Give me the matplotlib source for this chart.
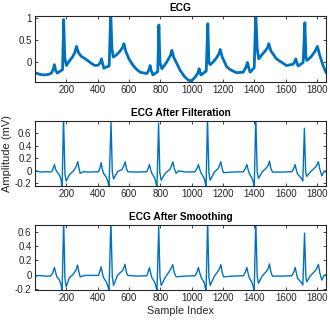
import matplotlib
matplotlib.use("Agg")
import matplotlib.pyplot as plt

# ---- data (sample index, amplitude in mV) ----
raw_x = [1, 25, 53, 85, 106, 118, 125, 132, 143, 160, 177, 184, 191, 202, 212, 223, 240, 255, 266,
         278, 295, 330, 360, 383, 405, 418, 425, 432, 440, 458, 474, 484, 492, 500, 521, 545, 560, 568,
         580, 600, 625, 650, 672, 714, 726, 735, 742, 753, 770, 784, 791, 798, 810, 830, 850, 865, 874,
         885, 905, 927, 955, 980, 1000, 1022, 1038, 1048, 1053, 1059, 1075, 1093, 1103, 1110, 1118, 1140,
         1160, 1175, 1182, 1195, 1224, 1250, 1286, 1328, 1345, 1356, 1364, 1373, 1390, 1399, 1409, 1418,
         1428, 1445, 1470, 1485, 1492, 1505, 1541, 1575, 1604, 1647, 1658, 1664, 1670, 1679, 1700, 1711,
         1722, 1729, 1736, 1760, 1785, 1802, 1815, 1838, 1856]
raw_y = [-0.23, -0.26, -0.28, -0.27, -0.24, -0.15, -0.05, -0.17, -0.24, -0.2, -0.16, 0.96, 0.1, -0.07,
         -0.01, 0.045, 0.12, 0.22, 0.36, 0.22, 0.14, 0.06, -0.02, -0.07, -0.06, 0.0, 0.08, -0.02, -0.13,
         -0.1, -0.08, 1.12, 0.3, 0.12, 0.17, 0.26, 0.34, 0.42, 0.25, 0.08, -0.06, -0.16, -0.22, -0.25,
         -0.18, -0.07, -0.18, -0.28, -0.24, -0.2, 0.84, 0.0, -0.14, -0.05, 0.06, 0.16, 0.27, 0.12, -0.02,
         -0.18, -0.32, -0.40, -0.41, -0.33, -0.25, -0.14, -0.22, -0.28, -0.24, -0.19, 0.87, 0.0, -0.05,
         0.02, 0.11, 0.2, 0.29, 0.12, -0.1, -0.17, -0.23, -0.22, -0.12, 0.0, -0.12, -0.22, -0.15, -0.12,
         1.12, 0.3, 0.08, 0.16, 0.26, 0.34, 0.42, 0.26, 0.08, 0.0, -0.07, -0.04, 0.02, 0.08, 0.0, -0.08,
         -0.03, 0.0, 0.89, 0.1, 0.045, 0.12, 0.24, 0.36, 0.18, -0.07, -0.22]

filt_x = [1, 8, 20, 40, 70, 100, 112, 125, 133, 141, 157, 168, 174, 183, 192, 200, 221, 247, 262, 274,
          281, 289, 310, 350, 406, 415, 423, 430, 438, 455, 466, 473, 486, 494, 502, 527, 555, 568, 576,
          585, 593, 650, 714, 723, 731, 738, 746, 765, 773, 779, 789, 797, 806, 831, 860, 872, 880, 890,
          901, 916, 960, 1022, 1035, 1043, 1052, 1061, 1080, 1086, 1092, 1101, 1110, 1118, 1145, 1170,
          1180, 1186, 1195, 1203, 1260, 1330, 1343, 1352, 1360, 1367, 1385, 1393, 1399, 1409, 1418, 1426,
          1451, 1482, 1490, 1496, 1505, 1515, 1580, 1639, 1652, 1660, 1667, 1675, 1700, 1709, 1719, 1727,
          1734, 1756, 1790, 1800, 1808, 1818, 1830, 1845, 1851, 1856]
filt_y = [-0.05, 0.0, -0.01, -0.02, -0.015, -0.02, 0.0, 0.10, 0.02, -0.015, -0.07, -0.15, -0.26, 0.85,
          -0.05, -0.165, -0.06, 0.0, 0.06, 0.145, 0.05, -0.04, -0.015, -0.02, -0.015, 0.04, 0.13, 0.03,
          -0.04, -0.1, -0.17, -0.26, 0.775, -0.02, -0.13, -0.015, 0.02, 0.08, 0.145, 0.03, -0.015, -0.02,
          -0.015, 0.04, 0.10, 0.02, -0.04, -0.12, -0.2, -0.26, 0.76, -0.03, -0.15, -0.04, 0.02, 0.08, 0.145,
          0.03, -0.04, 0.0, -0.02, -0.015, 0.04, 0.10, 0.02, -0.04, -0.12, -0.18, -0.26, 0.82, -0.03, -0.15,
          -0.02, 0.04, 0.1, 0.145, 0.03, -0.03, -0.02, -0.015, 0.04, 0.10, 0.02, -0.04, -0.12, -0.18, -0.26,
          0.85, -0.02, -0.12, -0.015, 0.06, 0.1, 0.155, 0.04, -0.02, -0.02, -0.015, 0.04, 0.10, 0.02, -0.05,
          -0.12, -0.165, 0.68, -0.02, -0.09, -0.02, 0.06, 0.1, 0.145, 0.02, -0.08, -0.01, 0.0, -0.02]

smooth_x = [1, 20, 40, 70, 100, 113, 125, 134, 141, 157, 167, 174, 184, 192, 200, 221, 242, 262, 272,
            281, 289, 320, 406, 415, 423, 431, 438, 455, 466, 473, 485, 494, 502, 527, 560, 568, 575, 584,
            593, 650, 714, 723, 731, 739, 746, 765, 773, 779, 790, 798, 806, 831, 862, 872, 879, 889, 901,
            960, 1022, 1035, 1043, 1052, 1061, 1080, 1086, 1092, 1102, 1110, 1118, 1145, 1172, 1180, 1186,
            1195, 1203, 1260, 1330, 1343, 1352, 1360, 1367, 1385, 1393, 1399, 1409, 1418, 1426, 1451, 1482,
            1490, 1496, 1505, 1515, 1580, 1639, 1652, 1660, 1668, 1675, 1700, 1709, 1720, 1728, 1734, 1756,
            1790, 1800, 1808, 1818, 1830, 1845, 1856]
smooth_y = [-0.03, -0.01, -0.015, -0.02, -0.02, 0.02, 0.10, 0.02, -0.03, -0.075, -0.14, -0.22, 0.75,
            -0.05, -0.17, -0.04, 0.0, 0.06, 0.135, 0.04, -0.03, -0.01, -0.01, 0.05, 0.11, 0.02, -0.04,
            -0.1, -0.16, -0.22, 0.75, -0.03, -0.15, -0.01, 0.06, 0.1, 0.145, 0.03, -0.01, -0.02, -0.015,
            0.04, 0.10, 0.02, -0.04, -0.11, -0.17, -0.22, 0.67, -0.03, -0.15, -0.04, 0.06, 0.1, 0.14, 0.03,
            -0.03, -0.02, -0.015, 0.04, 0.10, 0.02, -0.04, -0.11, -0.17, -0.22, 0.75, -0.03, -0.15, -0.02,
            0.06, 0.1, 0.14, 0.03, -0.03, -0.02, -0.015, 0.04, 0.10, 0.02, -0.04, -0.11, -0.17, -0.22, 0.75,
            -0.02, -0.12, -0.015, 0.06, 0.1, 0.15, 0.04, -0.02, -0.02, -0.015, 0.04, 0.10, 0.02, -0.05,
            -0.11, -0.145, 0.58, -0.02, -0.1, -0.02, 0.06, 0.1, 0.145, 0.02, -0.075, -0.01, 0.0]

titles = ["ECG", "ECG After Filteration", "ECG After Smoothing"]
x_ticks = [200, 400, 600, 800, 1000, 1200, 1400, 1600, 1800]
y_ticks = [[0, 0.5, 1], [-0.2, 0, 0.2, 0.4, 0.6], [-0.2, 0, 0.2, 0.4, 0.6]]
y_limits = [(-0.435, 1.045), (-0.243, 0.80), (-0.214, 0.693)]

plt.rcParams["font.family"] = ["Liberation Sans", "DejaVu Sans"]
plt.rcParams["axes.unicode_minus"] = False

line_color = "#0072BD"
frame_color = "#262626"

fig = plt.figure(figsize=(3.30, 3.26), dpi=100)
# axes rectangles in figure fractions [left, bottom, width, height]
rects = [[0.106, 0.749, 0.882, 0.2025],
         [0.106, 0.4294, 0.882, 0.2003],
         [0.106, 0.1104, 0.882, 0.1994]]
series = [(raw_x, raw_y, 2.0), (filt_x, filt_y, 1.0), (smooth_x, smooth_y, 1.0)]

axes = []
for i, rect in enumerate(rects):
    ax = fig.add_axes(rect)
    xs, ys, lw = series[i]
    ax.plot(xs, ys, color=line_color, linewidth=lw)
    ax.set_xlim(1, 1857)
    ax.set_ylim(*y_limits[i])
    ax.set_xticks(x_ticks)
    ax.set_yticks(y_ticks[i])
    ax.set_yticklabels([f"{v:g}" for v in y_ticks[i]])
    ax.tick_params(direction="in", top=True, right=True, length=2.5, width=0.6,
                   labelsize=7.0, colors=frame_color, pad=2.5)
    for s in ax.spines.values():
        s.set_color(frame_color)
        s.set_linewidth(0.8)
    ax.set_title(titles[i], fontsize=7.3, fontweight="bold", pad=3.5, color="black")
    axes.append(ax)

axes[2].set_xlabel("Sample Index", fontsize=7.8, labelpad=2, color=frame_color)
axes[1].set_ylabel("Amplitude (mV)", fontsize=8.0, labelpad=2, color=frame_color)

fig.savefig("out.png", dpi=100)
plt.close(fig)
